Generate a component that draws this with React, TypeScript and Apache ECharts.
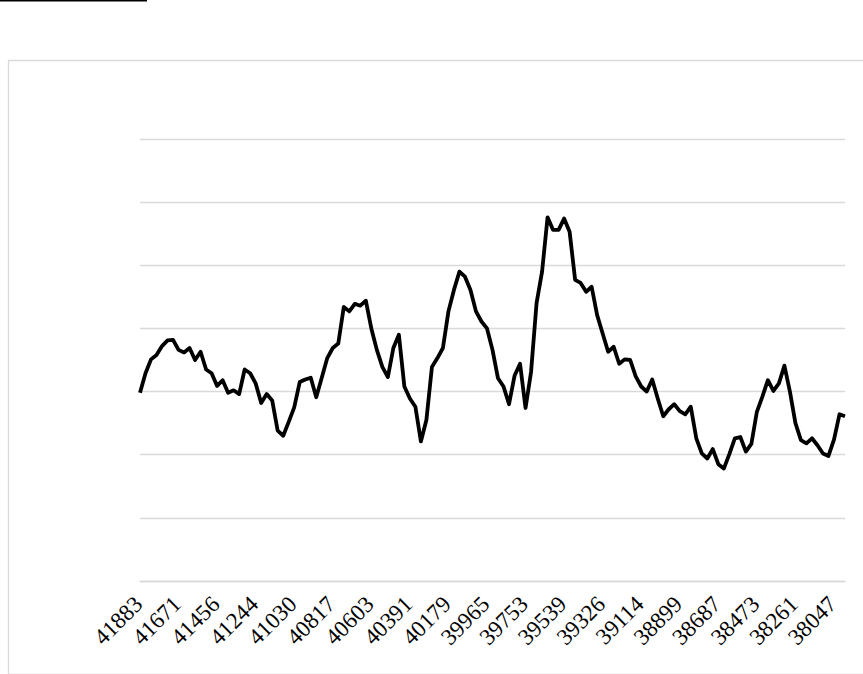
import React, { useEffect, useRef } from "react";
import * as echarts from "echarts";

const categories: string[] = [
  "41883", "41852", "41821", "41791", "41760", "41730", "41699", "41671", "41640",
  "41609", "41579", "41548", "41518", "41487", "41456", "41426", "41395", "41365", "41334", "41306", "41275",
  "41244", "41214", "41183", "41153", "41122", "41091", "41061", "41030", "41000", "40969", "40940", "40909",
  "40878", "40848", "40817", "40787", "40756", "40725", "40695", "40664", "40634", "40603", "40575", "40544",
  "40513", "40483", "40452", "40422", "40391", "40360", "40330", "40299", "40269", "40238", "40210", "40179",
  "40148", "40118", "40087", "40057", "40026", "39995", "39965", "39934", "39904", "39873", "39845", "39814",
  "39783", "39753", "39722", "39692", "39661", "39630", "39600", "39569", "39539", "39508", "39479", "39448",
  "39417", "39387", "39356", "39326", "39295", "39264", "39234", "39203", "39173", "39142", "39114", "39083",
  "39052", "39022", "38991", "38961", "38930", "38899", "38869", "38838", "38808", "38777", "38749", "38718",
  "38687", "38657", "38626", "38596", "38565", "38534", "38504", "38473", "38443", "38412", "38384", "38353",
  "38322", "38292", "38261", "38231", "38200", "38169", "38139", "38108", "38078", "38047", "38018", "37987",
];

const values: number[] = [
  2.98, 3.29, 3.51, 3.58, 3.72, 3.81, 3.82, 3.66, 3.62, 3.69,
  3.5, 3.63, 3.35, 3.29, 3.09, 3.18, 2.98, 3.02, 2.96, 3.35,
  3.29, 3.13, 2.82, 2.96, 2.86, 2.38, 2.3, 2.52, 2.75, 3.15,
  3.19, 3.22, 2.91, 3.22, 3.53, 3.69, 3.76, 4.34, 4.27, 4.39,
  4.36, 4.44, 4.0, 3.66, 3.39, 3.23, 3.69, 3.9, 3.08, 2.89,
  2.76, 2.21, 2.55, 3.39, 3.53, 3.69, 4.27, 4.61, 4.9, 4.82,
  4.61, 4.27, 4.11, 4.0, 3.66, 3.21, 3.08, 2.8, 3.25, 3.44,
  2.74, 3.31, 4.4, 4.9, 5.76, 5.56, 5.56, 5.74, 5.53, 4.77,
  4.72, 4.58, 4.66, 4.21, 3.92, 3.63, 3.71, 3.44, 3.51, 3.5,
  3.24, 3.08, 3.0, 3.19, 2.89, 2.61, 2.72, 2.8, 2.69, 2.64,
  2.76, 2.26, 2.02, 1.94, 2.09, 1.85, 1.78, 2.01, 2.26, 2.28,
  2.05, 2.17, 2.68, 2.92, 3.18, 3.01, 3.13, 3.41, 3.0, 2.5,
  2.23, 2.18, 2.26, 2.15, 2.02, 1.98, 2.24, 2.64, 2.61,
];

const yMin = 0;
const yMax = 7;
const yStep = 1;

export default function App() {
  const ref = useRef<HTMLDivElement>(null);
  useEffect(() => {
    document.body.style.margin = "0";
    const chart = echarts.init(ref.current!, null, { renderer: "svg" });
    chart.setOption({
      animation: false,
      backgroundColor: "#ffffff",
      graphic: [
        {
          type: "rect",
          left: 6,
          top: 58,
          shape: { x: 0, y: 0, width: 856, height: 614 },
          style: { fill: "none", stroke: "#d9d9d9", lineWidth: 1.3 },
          silent: true,
        },
        {
          type: "rect",
          shape: { x: 0, y: 0, width: 147, height: 1.6 },
          style: { fill: "#000000" },
          silent: true,
        },
      ],
      grid: { left: 140, right: 18, top: 139, bottom: 93, containLabel: false },
      xAxis: {
        type: "category",
        data: categories,
        boundaryGap: false,
        axisLine: { show: true, lineStyle: { color: "#d9d9d9", width: 1.3 } },
        axisTick: { show: false },
        axisLabel: {
          interval: 6,
          rotate: 45,
          margin: 18,
          align: "right",
          verticalAlign: "middle",
          padding: [0, 2, 0, 0],
          color: "#000000",
          fontFamily: "'Liberation Serif', serif",
          fontSize: 23,
        },
      },
      yAxis: {
        type: "value",
        min: yMin,
        max: yMax,
        interval: yStep,
        axisLine: { show: false },
        axisTick: { show: false },
        axisLabel: { show: false },
        splitLine: { show: true, lineStyle: { color: "#d9d9d9", width: 1.3 } },
      },
      series: [
        {
          type: "line",
          data: values,
          showSymbol: false,
          symbol: "none",
          lineStyle: { color: "#000000", width: 3.8, join: "round" },
          itemStyle: { color: "#000000" },
        },
      ],
    });
    return () => chart.dispose();
  }, []);
  return <div ref={ref} style={{ width: 863, height: 674 }} />;
}
